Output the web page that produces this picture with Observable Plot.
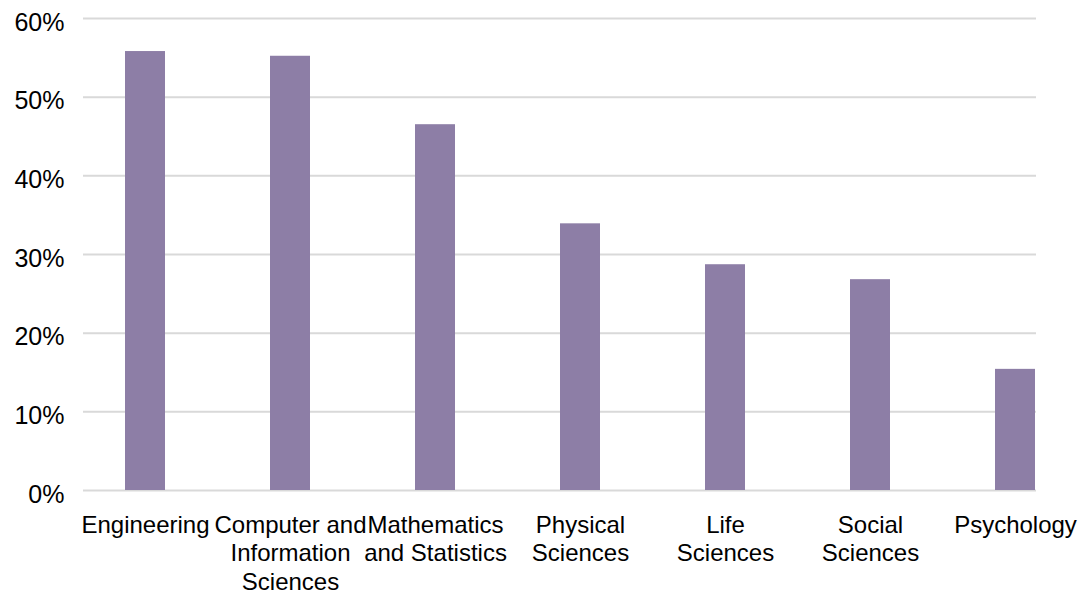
<!DOCTYPE html>
<html>
<head>
<meta charset="utf-8">
<script src="https://cdn.jsdelivr.net/npm/d3@7"></script>
<script src="https://cdn.jsdelivr.net/npm/@observablehq/plot@0.6"></script>
<style>
  html, body { margin: 0; padding: 0; background: #fff; }
  #chart svg { display: block; overflow: visible; }
</style>
</head>
<body>
<div id="chart"></div>
<script>
const categories = ["Engineering", "Computer and\nInformation\nSciences", "Mathematics\nand Statistics", "Physical\nSciences", "Life\nSciences", "Social\nSciences", "Psychology"];
const values = [0.558, 0.552, 0.465, 0.339, 0.287, 0.268, 0.154];
const yTicks = [0, 0.1, 0.2, 0.3, 0.4, 0.5, 0.6];

const data = categories.map((c, i) => ({category: c, value: values[i]}));

const step = 145.25;
const chart = Plot.plot({
  width: 1089,
  height: 595,
  marginTop: 18,
  marginBottom: 105,
  marginLeft: 83,
  marginRight: 53,
  style: {fontFamily: "'Liberation Sans', Arial, Helvetica, sans-serif", fontSize: "24px", color: "#000", background: "#fff", overflow: "visible"},
  x: {domain: categories, range: [144 - step / 2, 1015.5 + step / 2], paddingInner: 0.725, paddingOuter: 0.3625, label: null},
  y: {domain: [0, 0.6], label: null},
  marks: [
    Plot.ruleY(yTicks, {stroke: "#d9d9d9", strokeWidth: 2}),
    Plot.barY(data, {x: "category", y: "value", fill: "#8d7ea6"}),
    Plot.axisY({ticks: yTicks, tickFormat: d3.format(".0%"), tickSize: 0, tickPadding: 19, fontSize: 25, dy: 4, label: null}),
    Plot.axisX({tickSize: 0, tickPadding: 22, fontSize: 24, lineHeight: 1.19, label: null})
  ]
});
document.getElementById("chart").appendChild(chart);
</script>
</body>
</html>
